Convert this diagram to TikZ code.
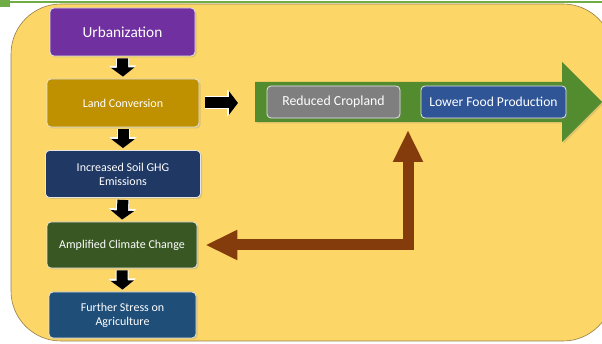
\documentclass[tikz,border=0pt]{standalone}
\usepackage{fontspec}
\setmainfont{Carlito}
\usetikzlibrary{arrows.meta,shadows}
\definecolor{bgyellow}{RGB}{252,214,102}
\definecolor{bgedge}{RGB}{150,125,70}
\definecolor{topgreen}{RGB}{112,173,71}
\definecolor{purp}{RGB}{112,48,160}
\definecolor{gold}{RGB}{191,144,0}
\definecolor{navy}{RGB}{31,56,100}
\definecolor{dgreen}{RGB}{56,87,35}
\definecolor{dblue}{RGB}{31,78,121}
\definecolor{arrgreen}{RGB}{82,140,46}
\definecolor{crgray}{RGB}{127,127,127}
\definecolor{fpblue}{RGB}{47,85,151}
\definecolor{brn}{RGB}{132,60,12}
\begin{document}
\begin{tikzpicture}[x=1pt,y=-1pt,
  box/.style={draw=white!80!gray, line width=0.8pt, rounded corners=4pt, text=white,
    align=center, inner sep=0pt,
    drop shadow={opacity=0.25, shadow xshift=1.5pt, shadow yshift=-1.5pt}},
  smallfont/.style={font=\fontsize{12}{14}\selectfont},
  blkarrow/.style={draw=black, line width=11pt, shorten <=2pt, shorten >=2pt,
    -{Triangle[width=23pt,length=9pt]},
    preaction={draw=white, line width=13pt, -{Triangle[width=27pt,length=11pt]}}},
  brnarrow/.style={draw=brn, line width=11pt, shorten <=8pt, shorten >=8pt,
    {Triangle[width=28pt,length=32pt]}-{Triangle[width=28pt,length=32pt]}}
]
\useasboundingbox (0,0) rectangle (602,344);
\clip (0,0) rectangle (602,344);
% background
\fill[white] (0,0) rectangle (602,344);
\fill[topgreen] (0,1.5) rectangle (602,3.5);
\fill[topgreen] (0,0) rectangle (10,7);
\filldraw[fill=bgyellow, draw=bgedge, line width=0.6pt, rounded corners=50pt] (11,4) rectangle (613,341);

% green arrow
\fill[arrgreen, drop shadow={opacity=0.25, shadow xshift=1.5pt, shadow yshift=-1.5pt}]
  (255,82) -- (562,82) -- (562,62) -- (602,102) -- (562,142) -- (562,122) -- (255,122) -- cycle;
\coordinate (gl) at (255,102);
\coordinate (gb) at (408,122);

% left column
\node[box, fill=purp, minimum width=145pt, minimum height=48pt, font=\fontsize{15.3}{17}\selectfont] (urb) at (122.5,32) {Urbanization};
\node[box, fill=gold, minimum width=152pt, minimum height=48pt, smallfont] (lc) at (123,103) {Land Conversion};
\node[box, fill=navy, minimum width=155pt, minimum height=47pt, smallfont] (gh) at (123,174) {Increased Soil GHG\\Emissions};
\node[box, fill=dgreen, minimum width=150pt, minimum height=46pt, smallfont] (acc) at (122,245) {Amplified Climate Change};
\node[box, fill=dblue, minimum width=147pt, minimum height=46pt, smallfont] (fs) at (122.5,315) {Further Stress on\\Agriculture};

% right boxes
\node[box, fill=crgray, minimum width=133pt, minimum height=32pt, font=\fontsize{13.8}{16}\selectfont] (rc) at (333.5,102) {Reduced Cropland};
\node[box, fill=fpblue, minimum width=145pt, minimum height=32pt, font=\fontsize{13.6}{16}\selectfont] (lf) at (493.5,102) {Lower Food Production};

% connectors
\draw[blkarrow] (urb.south) -- (lc.north);
\draw[blkarrow] (lc.south) -- (gh.north);
\draw[blkarrow] (gh.south) -- (acc.north);
\draw[blkarrow] (acc.south) -- (fs.north);
\draw[blkarrow, shorten <=6pt, shorten >=17pt] (lc.east) -- (lc.east -| gl);
\draw[brnarrow] (acc.east) -| (gb);
\end{tikzpicture}
\end{document}
